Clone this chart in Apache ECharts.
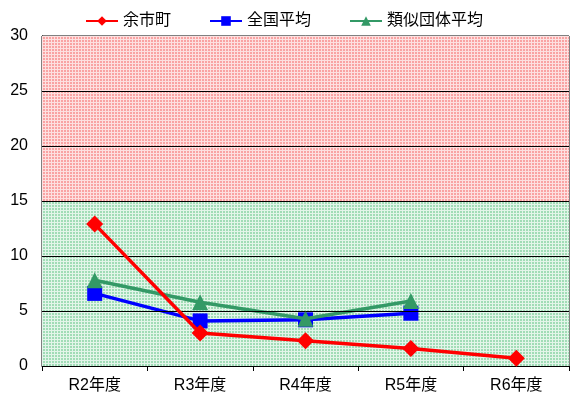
<!DOCTYPE html>
<html><head><meta charset="utf-8">
<script src="https://cdn.jsdelivr.net/npm/echarts@6/dist/echarts.min.js"></script>
<style>html,body{margin:0;padding:0;background:#fff}#c{width:570px;height:401px}</style>
</head><body><div id="c"></div>
<script>
const categories = ['R2年度','R3年度','R4年度','R5年度','R6年度'];
const yoichi = [12.9, 3.0, 2.3, 1.6, 0.7];
const national = [6.6, 4.1, 4.2, 4.8, null];
const similar = [7.8, 5.8, 4.3, 5.9, null];
const seriesNames = ['余市町','全国平均','類似団体平均'];
const yTicks = {min:0, max:30, interval:5};
const gridValues = [5, 10, 15, 20, 25];
const zoneLimit = 15;

function pattern(bg, line){
  const c = document.createElement('canvas');
  c.width = 3; c.height = 3;
  const g = c.getContext('2d');
  g.fillStyle = bg; g.fillRect(0,0,3,3);
  g.fillStyle = line; g.fillRect(0,0,3,1); g.fillRect(0,0,1,3);
  return {image:c, repeat:'repeat'};
}
const FONT = 'Liberation Sans, Arial, Noto Sans CJK JP, sans-serif';
const chart = echarts.init(document.getElementById('c'));
chart.setOption({
  animation:false,
  textStyle:{fontFamily:FONT},
  legend:{top:8,left:80,itemWidth:32,itemHeight:12,itemGap:38,
    textStyle:{fontSize:16,color:'#000',fontFamily:FONT},
    data:seriesNames},
  grid:{left:42,right:1,top:36,bottom:35,show:true,borderColor:'#000',borderWidth:1},
  xAxis:{type:'category',data:categories,boundaryGap:true,
    axisLine:{lineStyle:{color:'#000'}},
    axisTick:{show:true,length:5,lineStyle:{color:'#000'}},
    axisLabel:{fontSize:16,color:'#000',margin:12,fontFamily:FONT}},
  yAxis:{type:'value',min:yTicks.min,max:yTicks.max,interval:yTicks.interval,
    axisLine:{show:true,lineStyle:{color:'#000'}},
    axisTick:{show:false},
    axisLabel:{fontSize:16,color:'#000',margin:14,fontFamily:FONT},
    splitLine:{show:false}},
  series:[
    {name:seriesNames[0],type:'line',data:yoichi,z:5,
     symbol:'diamond',symbolSize:17,
     lineStyle:{color:'#ff0000',width:3.5},itemStyle:{color:'#ff0000'},
     markArea:{silent:true,data:[
       [{yAxis:zoneLimit,itemStyle:{color:pattern('#f9a3a3','#fde0e0')}},{yAxis:yTicks.max}],
       [{yAxis:yTicks.min,itemStyle:{color:pattern('#a0dcb6','#e2f5e9')}},{yAxis:zoneLimit}]
     ]},
     markLine:{silent:true,symbol:'none',label:{show:false},
       lineStyle:{color:'#000',width:1,type:'solid'},
       data:gridValues.map(v=>({yAxis:v}))}},
    {name:seriesNames[1],type:'line',data:national,z:3,
     symbol:'rect',symbolSize:15,
     lineStyle:{color:'#0000ff',width:3.5},itemStyle:{color:'#0000ff'}},
    {name:seriesNames[2],type:'line',data:similar,z:4,
     symbol:'triangle',symbolSize:16,
     lineStyle:{color:'#339966',width:3.5},itemStyle:{color:'#339966'}}
  ]
});
</script></body></html>
